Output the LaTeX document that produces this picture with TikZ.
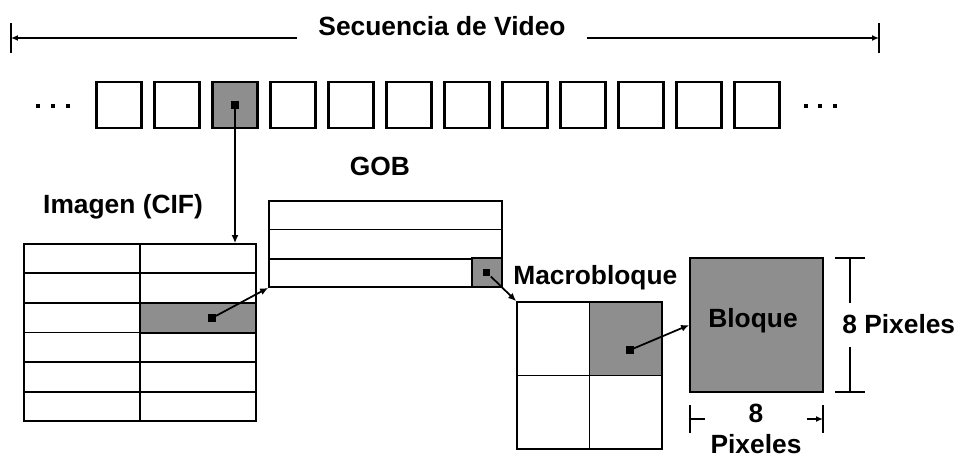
\documentclass[tikz,border=0pt]{standalone}
\usepackage{fontspec}
\setmainfont{Liberation Sans}
\usetikzlibrary{arrows.meta,calc}
\definecolor{Shade}{HTML}{8E8E8E}

\begin{document}
\begin{tikzpicture}[x=0.02cm,y=-0.02cm,
    lbl/.style={font=\fontsize{15}{17}\selectfont\bfseries,inner sep=0pt,anchor=base},
    frame/.style={draw,line width=1.4pt,minimum width=0.9cm,minimum height=0.92cm,inner sep=0pt},
    grid/.style={draw,line width=1pt,inner sep=0pt},
    sel/.style={grid,fill=Shade},
    dotmark/.style={fill=black,minimum size=4pt,inner sep=0pt},
    ell/.style={fill=black,minimum size=2.6pt,inner sep=0pt},
    link/.style={line width=1pt,-{Latex[length=1.6mm,width=1.4mm]}},
    dimline/.style={line width=1.1pt},
    tick/.style={line width=1.4pt}]
  \useasboundingbox (0,0) rectangle (965,458);

  % video sequence
  \node[lbl] (seq) at (442,35) {Secuencia de Video};
  \coordinate (seqL) at (11,38);
  \coordinate (seqR) at (879,38);
  \coordinate (seqLin) at (297,38);
  \coordinate (seqRin) at (587,38);
  \draw[tick] (seqL) ++(0,-15) -- ++(0,30);
  \draw[tick] (seqR) ++(0,-15) -- ++(0,30);
  \draw[dimline,-{Latex[length=1.4mm,width=1.2mm]}] (seqLin) -- (seqL);
  \draw[dimline,-{Latex[length=1.4mm,width=1.2mm]}] (seqRin) -- (seqR);

  \foreach \i in {1,...,12}{
    \ifnum\i=3 \def\fc{Shade}\else\def\fc{white}\fi
    \node[frame,fill=\fc] (f\i) at ({119+58*(\i-1)},105) {};
  }
  \foreach \x in {38,53,68} \node[ell] (ldot\x) at (\x,106) {};
  \foreach \x in {806,820,835} \node[ell] (rdot\x) at (\x,106) {};

  % picture
  \node[lbl] (imgtxt) at (123,213) {Imagen (CIF)};
  \node[sel,minimum width=2.32cm,minimum height=0.59cm] (imgsel) at (198,318) {};
  \node[grid,minimum width=4.64cm,minimum height=3.54cm] (img) at (140,332.5) {};
  \draw[line width=1pt] (img.north) -- (img.south);
  \foreach \r in {1,...,5}
    \draw[line width=1pt] ($(img.north west)!\r/6!(img.south west)$) -- ($(img.north east)!\r/6!(img.south east)$);

  % GOB
  \node[lbl] (gobtxt) at (380,175) {GOB};
  \node[grid,minimum width=4.66cm,minimum height=1.72cm] (gob) at (385.5,244) {};
  \foreach \r in {1,2}
    \draw[line width=1pt] ($(gob.north west)!\r/3!(gob.south west)$) -- ($(gob.north east)!\r/3!(gob.south east)$);
  \node[sel,minimum width=0.6cm,minimum height=0.573cm,anchor=south east] (gobsel) at (gob.south east) {};

  % macroblock
  \node[lbl,anchor=base west] (mbtxt) at (513,284) {Macrobloque};
  \node[grid,minimum width=2.9cm,minimum height=2.94cm] (mb) at (589.5,375.5) {};
  \node[sel,minimum width=1.45cm,minimum height=1.47cm,anchor=north east] (mbsel) at (mb.north east) {};
  \draw[line width=1pt] (mb.north) -- (mb.south);
  \draw[line width=1pt] (mb.west) -- (mb.east);

  % block
  \node[sel,minimum width=2.66cm,minimum height=2.68cm] (blq) at (756.5,325) {};
  \node[lbl] (blqtxt) at (753,327) {Bloque};

  % block size
  \coordinate (bt) at (850,258);
  \coordinate (bb) at (850,392);
  \coordinate (btin) at (850,303);
  \coordinate (bbin) at (850,347);
  \draw[tick] (bt) ++(-15,0) -- ++(30,0);
  \draw[tick] (bb) ++(-15,0) -- ++(30,0);
  \draw[dimline] (btin) -- (bt);
  \draw[dimline] (bbin) -- (bb);
  \node[lbl,anchor=base west] (hgt) at (842,333) {8 Pixeles};

  \coordinate (wl) at (690,419);
  \coordinate (wr) at (823,419);
  \coordinate (wlin) at (705,419);
  \coordinate (wrin) at (807,419);
  \draw[tick] (wl) ++(0,-14) -- ++(0,28);
  \draw[tick] (wr) ++(0,-14) -- ++(0,28);
  \draw[dimline] (wlin) -- (wl);
  \draw[dimline,-{Latex[length=1.4mm,width=1.2mm]}] (wrin) -- (wr);
  \node[lbl] (wnum) at (756,422) {8};
  \node[lbl] (wtxt) at (756,453) {Pixeles};

  % links
  \node[dotmark] (d1) at (f3) {};
  \draw[link] (d1) -- (d1 |- img.north);
  \node[dotmark] (d2) at (212,318) {};
  \draw[link] (d2) -- (gob.south west);
  \node[dotmark] (d3) at (gobsel) {};
  \draw[link] (d3) -- (mb.north west);
  \node[dotmark] (d4) at (630,350) {};
  \draw[link] (d4) -- (blq.west);
\end{tikzpicture}
\end{document}
